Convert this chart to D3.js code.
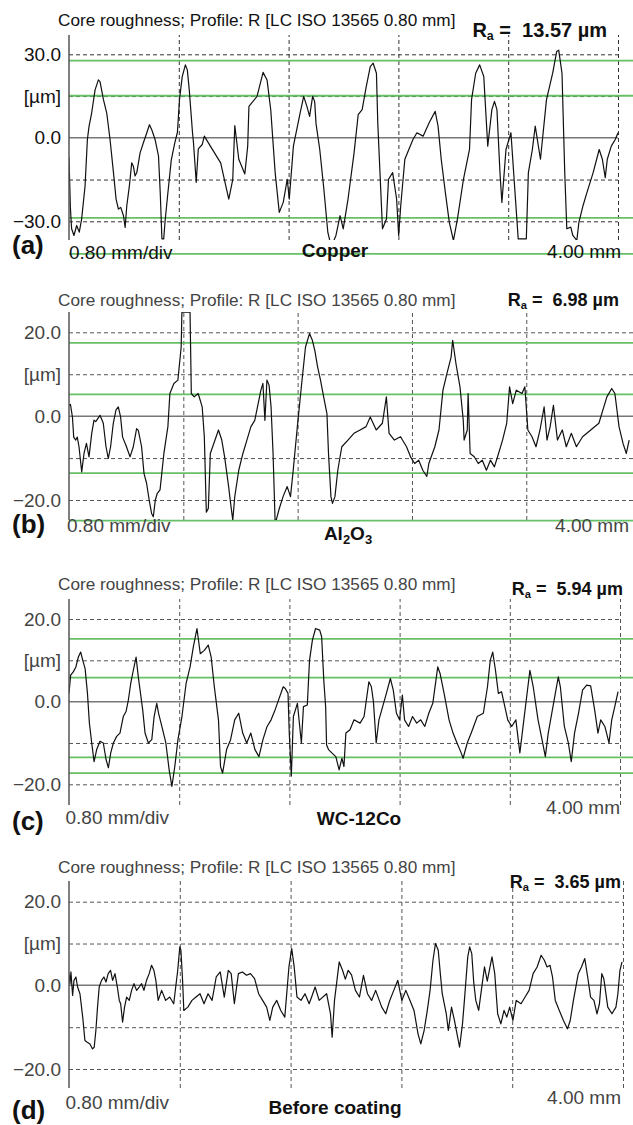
<!DOCTYPE html>
<html>
<head>
<meta charset="utf-8" />
<title>Core roughness profiles</title>
<style>
  body { margin: 0; background: #fff; }
  svg { display: block; }
  text { font-family: "Liberation Sans", Arial, sans-serif; }
</style>
</head>
<body>
<svg id="chart" width="633" height="1125"></svg>
<script src="https://cdnjs.cloudflare.com/ajax/libs/d3/7.8.5/d3.min.js"></script>
<script>
// profiles: [position mm, height um]
var copperProfile = [[0.000,-7.1],[0.010,-25],[0.019,-32.7],[0.036,-35.1],[0.056,-31.5],[0.075,-33.9],[0.092,-29.2],[0.117,-17.3],[0.134,-0.6],[0.146,4.1],[0.165,8.9],[0.190,17.2],[0.214,20.8],[0.226,20.2],[0.251,13.7],[0.275,8.9],[0.299,-0.6],[0.324,-12.5],[0.343,-22],[0.360,-25.6],[0.377,-25],[0.397,-28],[0.409,-32.2],[0.421,-24.4],[0.440,-17.3],[0.457,-9],[0.469,-10.2],[0.481,-13.7],[0.494,-12.5],[0.518,-5.4],[0.542,-1.8],[0.567,1.8],[0.586,4.7],[0.603,2.9],[0.627,-0.6],[0.652,-6.5],[0.665,-20],[0.677,-36.3],[0.69,-36.3],[0.70,-30],[0.72,-20],[0.745,-8],[0.77,-2],[0.79,2],[0.805,13.7],[0.825,22],[0.848,26.2],[0.862,24.4],[0.876,17.3],[0.90,1.8],[0.907,-1.8],[0.927,-16],[0.942,-4],[0.971,-2.4],[0.986,0.6],[1.03,-3],[1.105,-9],[1.164,-22],[1.193,-15],[1.208,4.4],[1.237,-7.7],[1.281,-13],[1.302,-3],[1.311,11.3],[1.37,14.9],[1.414,23.5],[1.443,20.8],[1.47,10],[1.502,-12.5],[1.532,-26.8],[1.561,-23.2],[1.59,-14.9],[1.605,-22],[1.635,-3],[1.68,8],[1.71,14.9],[1.735,11],[1.753,7.7],[1.775,14.9],[1.79,13],[1.80,5],[1.827,-4.2],[1.857,-18.5],[1.886,-34],[1.9,-36.9],[1.93,-36.9],[1.945,-35.1],[1.975,-28],[1.998,-32.7],[2.033,-22],[2.077,-5.4],[2.107,8.3],[2.136,10.1],[2.166,18.5],[2.195,25.6],[2.216,26.8],[2.24,23.2],[2.25,5],[2.284,-32.7],[2.313,-29.2],[2.328,-14.9],[2.358,-12.5],[2.387,-22],[2.402,-35.1],[2.417,-24.4],[2.447,-7.7],[2.506,-0.6],[2.535,1.8],[2.58,0.6],[2.624,5.4],[2.668,9.5],[2.689,4.2],[2.712,-7.7],[2.742,-19.6],[2.771,-30.4],[2.801,-36.9],[2.83,-29.2],[2.874,-14.9],[2.918,-4.2],[2.933,13.7],[2.963,23.2],[2.992,26.2],[3.022,22],[3.051,-3],[3.081,10.1],[3.1,13.1],[3.118,10.1],[3.14,-12.5],[3.154,-23.2],[3.184,-4.2],[3.22,1.8],[3.243,-14.9],[3.273,-36.3],[3.332,-36.3],[3.347,-12.5],[3.376,-4.2],[3.397,4.2],[3.435,-7.7],[3.479,13.7],[3.524,23.2],[3.553,31],[3.568,31.5],[3.592,23.2],[3.612,-12.5],[3.627,-32.7],[3.656,-32.1],[3.671,-35.1],[3.7,-36.9],[3.715,-30.4],[3.745,-24.4],[3.774,-19.6],[3.819,-12.5],[3.863,-4.2],[3.886,-7.7],[3.907,-14.3],[3.922,-7.7],[3.951,-3],[3.98,-0.6],[4.0,1.8]];

var al2o3Profile = [[0,2.6],[0.01,2.8],[0.024,-0.2],[0.033,-5],[0.047,-5.7],[0.058,-5],[0.07,-7.3],[0.089,-13.3],[0.105,-8.9],[0.122,-6.5],[0.14,-9.7],[0.159,-4.1],[0.175,-0.95],[0.187,-1.3],[0.217,0.2],[0.24,-1.7],[0.259,-7.3],[0.275,-10.1],[0.291,-7.3],[0.31,-1.7],[0.329,1.5],[0.345,2.2],[0.361,-0.2],[0.375,-5],[0.399,-7],[0.427,-9.7],[0.45,-7.3],[0.473,-3],[0.485,-3.4],[0.508,-7.3],[0.525,-13.7],[0.543,-16],[0.561,-20],[0.578,-23.2],[0.59,-24],[0.604,-20],[0.618,-18.4],[0.637,-17.6],[0.664,-8.9],[0.692,-2.5],[0.706,5.4],[0.734,7.8],[0.762,8.6],[0.785,16.5],[0.79,24.8],[0.847,24.8],[0.856,5.4],[0.876,4.6],[0.904,5.4],[0.932,2.2],[0.947,-4.9],[0.961,-22.9],[0.975,-22],[0.989,-8.9],[1.046,-3.3],[1.069,-5.7],[1.089,-9.7],[1.117,-16.8],[1.131,-20.8],[1.146,-24.8],[1.16,-19.2],[1.188,-12.9],[1.217,-8.9],[1.245,-5.7],[1.273,-2.5],[1.3,-1],[1.343,6.2],[1.357,7.8],[1.371,-1],[1.385,8.6],[1.4,7.4],[1.414,2.2],[1.428,-8.9],[1.442,-24.8],[1.45,-24.8],[1.47,-22.2],[1.498,-19.2],[1.527,-16.8],[1.55,-19.2],[1.569,-12.9],[1.598,-2.5],[1.626,7],[1.655,16.5],[1.683,19.7],[1.703,18.1],[1.72,15.7],[1.74,11.7],[1.76,8.6],[1.782,4.6],[1.805,0.6],[1.816,-8.9],[1.833,-19.2],[1.844,-20.8],[1.861,-19.2],[1.881,-12.9],[1.909,-7.3],[1.952,-5.7],[1.994,-4.1],[2.037,-3.3],[2.079,-2.5],[2.108,-0.2],[2.15,-3.3],[2.193,-1.7],[2.221,4.6],[2.24,-4.1],[2.277,-5.7],[2.32,-4.9],[2.362,-7.3],[2.39,-9.7],[2.419,-11.3],[2.447,-10.5],[2.476,-12.9],[2.504,-14.4],[2.518,-11.3],[2.56,-7.3],[2.589,-3.3],[2.617,6.2],[2.645,10.2],[2.674,14.1],[2.685,18.1],[2.708,12.5],[2.736,7],[2.759,-1],[2.765,-5.7],[2.787,-3.3],[2.793,5.4],[2.807,-8.9],[2.836,-9.7],[2.864,-11.3],[2.892,-10.5],[2.921,-12.9],[2.949,-10.5],[2.977,-12.1],[3.006,-8.9],[3.034,-5.7],[3.063,-1.7],[3.083,7],[3.105,3],[3.13,6.2],[3.17,5.4],[3.19,7],[3.211,-3.3],[3.24,-4.9],[3.268,-7.3],[3.296,-3.3],[3.325,2.2],[3.345,-5.7],[3.367,-2.5],[3.39,2.6],[3.418,-5.7],[3.452,-3.3],[3.48,-7.3],[3.515,-4.1],[3.551,-7.3],[3.594,-4.9],[3.651,-3.3],[3.708,-1.7],[3.764,4.6],[3.798,6.6],[3.82,5.4],[3.849,-2.5],[3.877,-6.5],[3.9,-8.9],[3.92,-5.7]];

var wcCoProfile = [[0,2],[0.012,6.4],[0.031,7.2],[0.05,8.4],[0.068,10.8],[0.085,12],[0.1,10],[0.117,8],[0.134,2],[0.148,-5.2],[0.165,-10],[0.182,-14.5],[0.201,-11.6],[0.225,-9.6],[0.249,-10],[0.269,-14],[0.286,-16],[0.303,-12.4],[0.322,-10],[0.346,-8.4],[0.37,-7.6],[0.394,-3.6],[0.414,-2.4],[0.431,0.4],[0.448,4.4],[0.467,7.6],[0.487,10.8],[0.503,6],[0.516,2.8],[0.535,-2],[0.552,-7.6],[0.576,-10],[0.601,-9.2],[0.618,-3.6],[0.637,-0.4],[0.65,-2.8],[0.674,-6],[0.703,-10],[0.727,-16.5],[0.747,-20.5],[0.768,-15.7],[0.791,-9.2],[0.82,-3.6],[0.85,4.4],[0.879,8.4],[0.903,13.3],[0.929,17.7],[0.953,11.6],[0.982,12.4],[1.011,13.7],[1.032,10.8],[1.055,3.6],[1.085,-4.4],[1.1,-15.7],[1.115,-17.3],[1.144,-11.6],[1.173,-9.2],[1.203,-4.4],[1.232,-2.8],[1.261,-7.6],[1.29,-10],[1.32,-7.6],[1.35,-11.6],[1.379,-13.3],[1.408,-9.2],[1.438,-6],[1.467,-4.4],[1.496,-2],[1.555,3.6],[1.57,3.2],[1.59,2],[1.599,-7.6],[1.614,-18],[1.629,-3.6],[1.658,-0.4],[1.687,-10],[1.702,-1.2],[1.73,-0.8],[1.746,10],[1.767,14.9],[1.79,17.7],[1.82,17.3],[1.834,15.7],[1.85,5],[1.863,-1.2],[1.87,-10.5],[1.884,-11.6],[1.908,-12.4],[1.937,-13.3],[1.961,-16.5],[1.981,-13.7],[1.996,-15.7],[2.01,-7.6],[2.04,-6.8],[2.069,-4.4],[2.113,-5.2],[2.142,-3.6],[2.177,4.8],[2.195,3.6],[2.21,0],[2.23,-10],[2.25,-4.4],[2.304,2],[2.333,5.6],[2.354,2.8],[2.377,-2.8],[2.4,-4.4],[2.42,1.6],[2.436,-4.4],[2.465,-6],[2.494,-3.6],[2.524,-5.2],[2.553,-4.4],[2.583,-6],[2.612,-2.8],[2.641,-0.4],[2.677,8.4],[2.694,6.8],[2.723,2],[2.759,-4.4],[2.788,-7.6],[2.817,-10],[2.847,-12.4],[2.861,-13.7],[2.891,-10],[2.92,-7.6],[2.964,-3.6],[3.008,-2.8],[3.038,3.6],[3.058,10],[3.076,12],[3.096,7.6],[3.117,2],[3.14,2.4],[3.164,-1.2],[3.185,-4.4],[3.214,-6],[3.244,-4.4],[3.273,-12.4],[3.302,-4.4],[3.346,7.6],[3.37,3.6],[3.405,-4.4],[3.434,-9.2],[3.458,-13.3],[3.479,-7.6],[3.552,6],[3.567,3.6],[3.596,-6],[3.625,-10],[3.646,-14.5],[3.67,-7.6],[3.699,-2.8],[3.728,2.8],[3.758,4],[3.787,3.8],[3.816,-2],[3.84,-7.6],[3.86,-4.4],[3.89,-6],[3.92,-10],[3.94,-4.4],[3.962,-1.2],[3.986,2.4]];

var beforeProfile = [[0,2.8],[0.007,0.4],[0.014,3.2],[0.026,-2.4],[0.036,1.2],[0.05,2],[0.062,-0.4],[0.079,-2],[0.099,-7.6],[0.115,-13.2],[0.132,-13.6],[0.151,-14],[0.17,-15.2],[0.182,-14.8],[0.194,-10.8],[0.206,-5.2],[0.218,-0.4],[0.235,1.2],[0.252,2],[0.267,0.8],[0.283,2.8],[0.3,3.6],[0.315,1.2],[0.332,2.8],[0.349,-0.4],[0.363,-3.6],[0.373,-4.4],[0.387,-8.8],[0.401,-5.2],[0.416,-2.8],[0.435,-3.6],[0.452,-1.2],[0.469,0.4],[0.488,-1.2],[0.507,-0.4],[0.524,0.4],[0.541,-1.2],[0.56,1.2],[0.579,2.8],[0.596,4.8],[0.613,3.6],[0.627,1.2],[0.644,-3.6],[0.669,-1.2],[0.698,-3.6],[0.727,-2.8],[0.756,-4.4],[0.785,3.6],[0.8,9.2],[0.808,8.4],[0.82,1.2],[0.829,-6],[0.858,-5.2],[0.888,-3.6],[0.917,-2.8],[0.946,-2],[0.975,-4.4],[1.004,-2],[1.033,-3.6],[1.063,2],[1.092,3.2],[1.121,-2.8],[1.15,3.6],[1.171,2.8],[1.194,-4.4],[1.223,2.8],[1.252,3.2],[1.282,2.4],[1.31,2.8],[1.34,1.6],[1.369,-2],[1.398,-3.6],[1.427,-5.2],[1.45,-8.4],[1.471,-5.2],[1.5,-3.6],[1.529,-6],[1.558,-7.6],[1.588,4.4],[1.608,8.8],[1.626,4.4],[1.646,-2.8],[1.675,-3.6],[1.704,-2],[1.734,-4.4],[1.755,-2.5],[1.777,-0.4],[1.806,-3.6],[1.86,-2],[1.888,-6.8],[1.9,-12.4],[1.917,-3.6],[1.951,5.6],[1.975,3.6],[1.995,1.5],[2.016,3.6],[2.04,2.5],[2.068,-1.2],[2.097,-2.8],[2.126,2.4],[2.155,-2],[2.185,-3.6],[2.214,-1.2],[2.258,-5.2],[2.287,-6.8],[2.316,-3.6],[2.345,-1.2],[2.374,1.2],[2.403,-3.6],[2.432,-1.2],[2.462,-3.6],[2.491,-6],[2.52,-11.6],[2.54,-14],[2.564,-10.8],[2.587,-6],[2.607,-1.2],[2.628,6],[2.646,10],[2.666,8.4],[2.681,2.8],[2.695,-2],[2.724,-6.8],[2.739,-10.8],[2.762,-5.2],[2.783,-8.4],[2.797,-10.8],[2.82,-14.8],[2.841,-9.2],[2.855,-3.6],[2.879,6.8],[2.893,9.2],[2.908,7.6],[2.922,0.8],[2.937,-3.6],[2.958,-6],[3.0,4.4],[3.02,1],[3.054,6.8],[3.074,2.8],[3.095,-6.8],[3.118,-9.2],[3.141,-6],[3.161,-7.6],[3.182,-5.2],[3.205,-8.4],[3.229,-3.6],[3.264,-4.4],[3.293,-2.8],[3.322,-1.2],[3.351,2.8],[3.38,4.4],[3.409,7.2],[3.432,6],[3.452,4.4],[3.473,4.8],[3.491,2],[3.511,-3.6],[3.54,-6],[3.57,-8.4],[3.599,-10.4],[3.619,-8.4],[3.642,-3.6],[3.677,2.8],[3.7,4.4],[3.724,6.4],[3.745,2],[3.766,-2.8],[3.79,-3.6],[3.812,-6.8],[3.83,-4.4],[3.847,2.8],[3.862,1.5],[3.89,-5.2],[3.92,-6.8],[3.949,-5.2],[3.963,-2],[3.978,3.6],[3.993,5.6]];

// green core-roughness levels (um)
var copperLevels = [27.7, 15.1, -28.8, -41.7];
var al2o3Levels = [17.5, 5.2, -13.6, -24.9];
var wcCoLevels = [15.2, 5.8, -13.5, -17.3];
var beforeLevels = [];

var panelLetters = ["(a)", "(b)", "(c)", "(d)"];
var raValues = ["13.57", "6.98", "5.94", "3.65"];
var gridSteps = [15, 10, 10, 10];
var divTicks = [0.8, 1.6, 2.4, 3.2, 4.0];
var titleText = "Core roughness; Profile: R [LC ISO 13565 0.80 mm]";

var svg = d3.select("#chart");
svg.append("rect").attr("width", 633).attr("height", 1125).attr("fill", "#fff");

// pixel layout of each panel
var layouts = [
  { x4: 618, axisTop: 35, axisBottom: 240, gTop: 54.3, gBot: 221.3, ink: "#111", grid: "#333",
    titleY: 26, raX: 607, raY: 37, raSize: 20, letterY: 254, divX: 69, divY: 259, matX: 335, matY: 257, endX: 621, endY: 258 },
  { x4: 640.6, axisTop: 312, axisBottom: 520, gTop: 332.3, gBot: 500, ink: "#444", grid: "#555",
    titleY: 306, raX: 619, raY: 306, raSize: 18, letterY: 533, divX: 67, divY: 532, matX: 348, matY: 540, endX: 629, endY: 532 },
  { x4: 620, axisTop: 599, axisBottom: 805, gTop: 619, gBot: 784.3, ink: "#444", grid: "#555",
    titleY: 590, raX: 623, raY: 595, raSize: 18, letterY: 830, divX: 65.5, divY: 824, matX: 359, matY: 825, endX: 620, endY: 814 },
  { x4: 623, axisTop: 881, axisBottom: 1088, gTop: 901.7, gBot: 1069, ink: "#444", grid: "#555",
    titleY: 873, raX: 621, raY: 888, raSize: 18, letterY: 1119, divX: 65.5, divY: 1109, matX: 335, matY: 1114, endX: 621, endY: 1104 }
];

var profiles = [copperProfile, al2o3Profile, wcCoProfile, beforeProfile];
var levels = [copperLevels, al2o3Levels, wcCoLevels, beforeLevels];

function drawPanel(i) {
  var L = layouts[i];
  var step = gridSteps[i];
  var g = svg.append("g");
  var right = Math.min(L.x4, 633);

  var x = d3.scaleLinear().domain([0, 4]).range([69, L.x4]);
  var y = d3.scaleLinear().domain([-2 * step, 2 * step]).range([L.gBot, L.gTop]);

  // horizontal dashed grid
  g.append("g")
    .attr("transform", "translate(69,0)")
    .call(d3.axisLeft(y).tickValues([-2 * step, -step, step, 2 * step]).tickSize(-(right - 69)).tickFormat(""))
    .call(function(a) {
      a.select(".domain").remove();
      a.selectAll("line").attr("stroke", L.grid).attr("stroke-dasharray", "4,3");
    });

  // vertical dashed grid every 0.80 mm
  g.append("g")
    .attr("transform", "translate(0," + L.axisBottom + ")")
    .call(d3.axisBottom(x).tickValues(divTicks.filter(function(d) { return x(d) <= 633; }))
      .tickSize(-(L.axisBottom - L.axisTop)).tickFormat(""))
    .call(function(a) {
      a.select(".domain").remove();
      a.selectAll("line").attr("stroke", L.grid).attr("stroke-dasharray", "4,3");
    });

  // zero line
  g.append("line")
    .attr("x1", 69).attr("x2", right)
    .attr("y1", y(0)).attr("y2", y(0))
    .attr("stroke", "#777").attr("stroke-width", 1.5);

  // green levels
  g.selectAll(".lvl")
    .data(levels[i])
    .enter().append("line")
    .attr("x1", 69).attr("x2", 633)
    .attr("y1", function(d) { return y(d); })
    .attr("y2", function(d) { return y(d); })
    .attr("stroke", "#66c066").attr("stroke-width", 1.8);

  // profile
  var clipId = "clip" + i;
  svg.append("clipPath").attr("id", clipId)
    .append("rect")
    .attr("x", 69).attr("y", L.axisTop)
    .attr("width", 633 - 69).attr("height", L.axisBottom - L.axisTop);

  var line = d3.line()
    .x(function(d) { return x(d[0]); })
    .y(function(d) { return y(d[1]); });

  g.append("path")
    .datum(profiles[i])
    .attr("clip-path", "url(#" + clipId + ")")
    .attr("d", line)
    .attr("fill", "none")
    .attr("stroke", "#111")
    .attr("stroke-width", 1.2)
    .attr("stroke-linejoin", "round");

  // axis line
  g.append("line")
    .attr("x1", 69).attr("x2", 69)
    .attr("y1", L.axisTop).attr("y2", L.axisBottom)
    .attr("stroke", "#555").attr("stroke-width", 1.5);

  // y labels
  var labelVals = [2 * step, step, 0, -2 * step];
  g.append("g")
    .attr("transform", "translate(69,0)")
    .call(d3.axisLeft(y).tickValues(labelVals).tickSize(0).tickPadding(8)
      .tickFormat(function(d) { return d === step ? "[\u00b5m]" : d3.format(".1f")(d); }))
    .call(function(a) {
      a.select(".domain").remove();
      a.selectAll("text")
        .attr("font-family", "Liberation Sans, Arial, sans-serif")
        .attr("font-size", 19)
        .attr("fill", L.ink);
    });

  // header
  g.append("text")
    .attr("x", 58).attr("y", L.titleY)
    .attr("font-size", 17.2)
    .attr("fill", L.ink)
    .text(titleText);

  var ra = g.append("text")
    .attr("x", L.raX).attr("y", L.raY)
    .attr("text-anchor", "end")
    .attr("font-size", L.raSize)
    .attr("font-weight", "bold")
    .attr("fill", "#111");
  ra.append("tspan").text("R");
  ra.append("tspan").attr("font-size", L.raSize * 0.62).attr("dy", 3).text("a");
  ra.append("tspan").attr("dy", -3).text("\u00a0=\u00a0 " + raValues[i] + " \u00b5m");

  // footer
  g.append("text")
    .attr("x", 12).attr("y", L.letterY)
    .attr("font-size", 26).attr("font-weight", "bold").attr("fill", "#111")
    .text(panelLetters[i]);

  g.append("text")
    .attr("x", L.divX).attr("y", L.divY)
    .attr("font-size", 19).attr("fill", L.ink)
    .text("0.80 mm/div");

  g.append("text")
    .attr("x", L.endX).attr("y", L.endY)
    .attr("text-anchor", "end")
    .attr("font-size", 19).attr("fill", L.ink)
    .text("4.00 mm");

  var mat = g.append("text")
    .attr("x", L.matX).attr("y", L.matY)
    .attr("text-anchor", "middle")
    .attr("font-size", 19).attr("font-weight", "bold").attr("fill", "#111");
  if (i === 1) {
    mat.append("tspan").text("Al");
    mat.append("tspan").attr("font-size", 13).attr("dy", 4).text("2");
    mat.append("tspan").attr("dy", -4).text("O");
    mat.append("tspan").attr("font-size", 13).attr("dy", 4).text("3");
  } else {
    mat.text(["Copper", "", "WC-12Co", "Before coating"][i]);
  }
}

for (var i = 0; i < 4; i++) drawPanel(i);
</script>
</body>
</html>
